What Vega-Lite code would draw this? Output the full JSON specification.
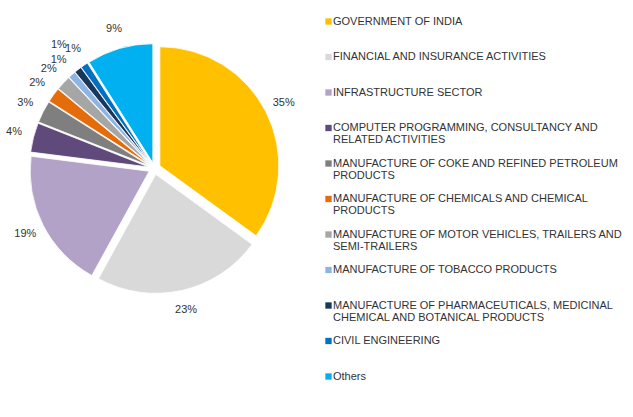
{
  "$schema": "https://vega.github.io/schema/vega-lite/v6.json",
  "width": 309,
  "height": 337,
  "padding": 0,
  "background": "white",
  "config": {
    "view": {"stroke": null},
    "font": "Liberation Sans",
    "style": {"guide-label": {"lineHeight": 12}}
  },
  "data": {
    "values": [
      {"sector": "GOVERNMENT OF INDIA", "share": 0.35, "rank": 1},
      {"sector": "FINANCIAL AND INSURANCE ACTIVITIES", "share": 0.23, "rank": 2},
      {"sector": "INFRASTRUCTURE SECTOR", "share": 0.19, "rank": 3},
      {"sector": "COMPUTER PROGRAMMING, CONSULTANCY AND RELATED ACTIVITIES", "share": 0.04, "rank": 4},
      {"sector": "MANUFACTURE OF COKE AND REFINED PETROLEUM PRODUCTS", "share": 0.03, "rank": 5},
      {"sector": "MANUFACTURE OF CHEMICALS AND CHEMICAL PRODUCTS", "share": 0.02, "rank": 6},
      {"sector": "MANUFACTURE OF MOTOR VEHICLES, TRAILERS AND SEMI-TRAILERS", "share": 0.02, "rank": 7},
      {"sector": "MANUFACTURE OF TOBACCO PRODUCTS", "share": 0.01, "rank": 8},
      {"sector": "MANUFACTURE OF PHARMACEUTICALS, MEDICINAL CHEMICAL AND BOTANICAL PRODUCTS", "share": 0.01, "rank": 9},
      {"sector": "CIVIL ENGINEERING", "share": 0.01, "rank": 10},
      {"sector": "Others", "share": 0.09, "rank": 11}
    ]
  },
  "encoding": {
    "theta": {"field": "share", "type": "quantitative", "stack": true},
    "order": {"field": "rank", "type": "quantitative"}
  },
  "layer": [
    {
      "mark": {
        "type": "arc",
        "radius": 119,
        "stroke": "white",
        "strokeWidth": 0.8,
        "xOffset": {"expr": "6*sin(PI*(datum.share_start+datum.share_end))"},
        "yOffset": {"expr": "-6*cos(PI*(datum.share_start+datum.share_end))"}
      },
      "encoding": {
        "color": {
          "field": "sector",
          "type": "nominal",
          "sort": null,
          "scale": {
            "range": ["#FFC000", "#D9D9D9", "#B3A2C7", "#604A7B", "#7F7F7F", "#E46C0A", "#A6A6A6", "#8EB4E3", "#17375E", "#0070C0", "#00B0F0"]
          },
          "legend": {
            "title": null,
            "orient": "right",
            "offset": -2,
            "padding": 16,
            "symbolType": "square",
            "symbolSize": 40,
            "symbolStrokeWidth": 0,
            "labelFontSize": 11,
            "labelFont": "Liberation Sans",
            "labelColor": "#333333",
            "labelLimit": 400,
            "labelBaseline": "middle",
            "labelOffset": -1,
            "gridAlign": "all",
            "rowPadding": 11.5,
            "labelExpr": "datum.label == 'COMPUTER PROGRAMMING, CONSULTANCY AND RELATED ACTIVITIES' ? ['COMPUTER PROGRAMMING, CONSULTANCY AND', 'RELATED ACTIVITIES'] : datum.label == 'MANUFACTURE OF COKE AND REFINED PETROLEUM PRODUCTS' ? ['MANUFACTURE OF COKE AND REFINED PETROLEUM', 'PRODUCTS'] : datum.label == 'MANUFACTURE OF CHEMICALS AND CHEMICAL PRODUCTS' ? ['MANUFACTURE OF CHEMICALS AND CHEMICAL', 'PRODUCTS'] : datum.label == 'MANUFACTURE OF MOTOR VEHICLES, TRAILERS AND SEMI-TRAILERS' ? ['MANUFACTURE OF MOTOR VEHICLES, TRAILERS AND', 'SEMI-TRAILERS'] : datum.label == 'MANUFACTURE OF PHARMACEUTICALS, MEDICINAL CHEMICAL AND BOTANICAL PRODUCTS' ? ['MANUFACTURE OF PHARMACEUTICALS, MEDICINAL', 'CHEMICAL AND BOTANICAL PRODUCTS'] : datum.label"
          }
        }
      }
    },
    {
      "mark": {
        "type": "text",
        "radius": {"expr": "datum.rank == 9 ? 156 : 145"},
        "fontSize": 11,
        "font": "Liberation Sans",
        "color": "#333333"
      },
      "encoding": {
        "text": {"field": "share", "type": "quantitative", "format": ".0%"}
      }
    }
  ]
}
